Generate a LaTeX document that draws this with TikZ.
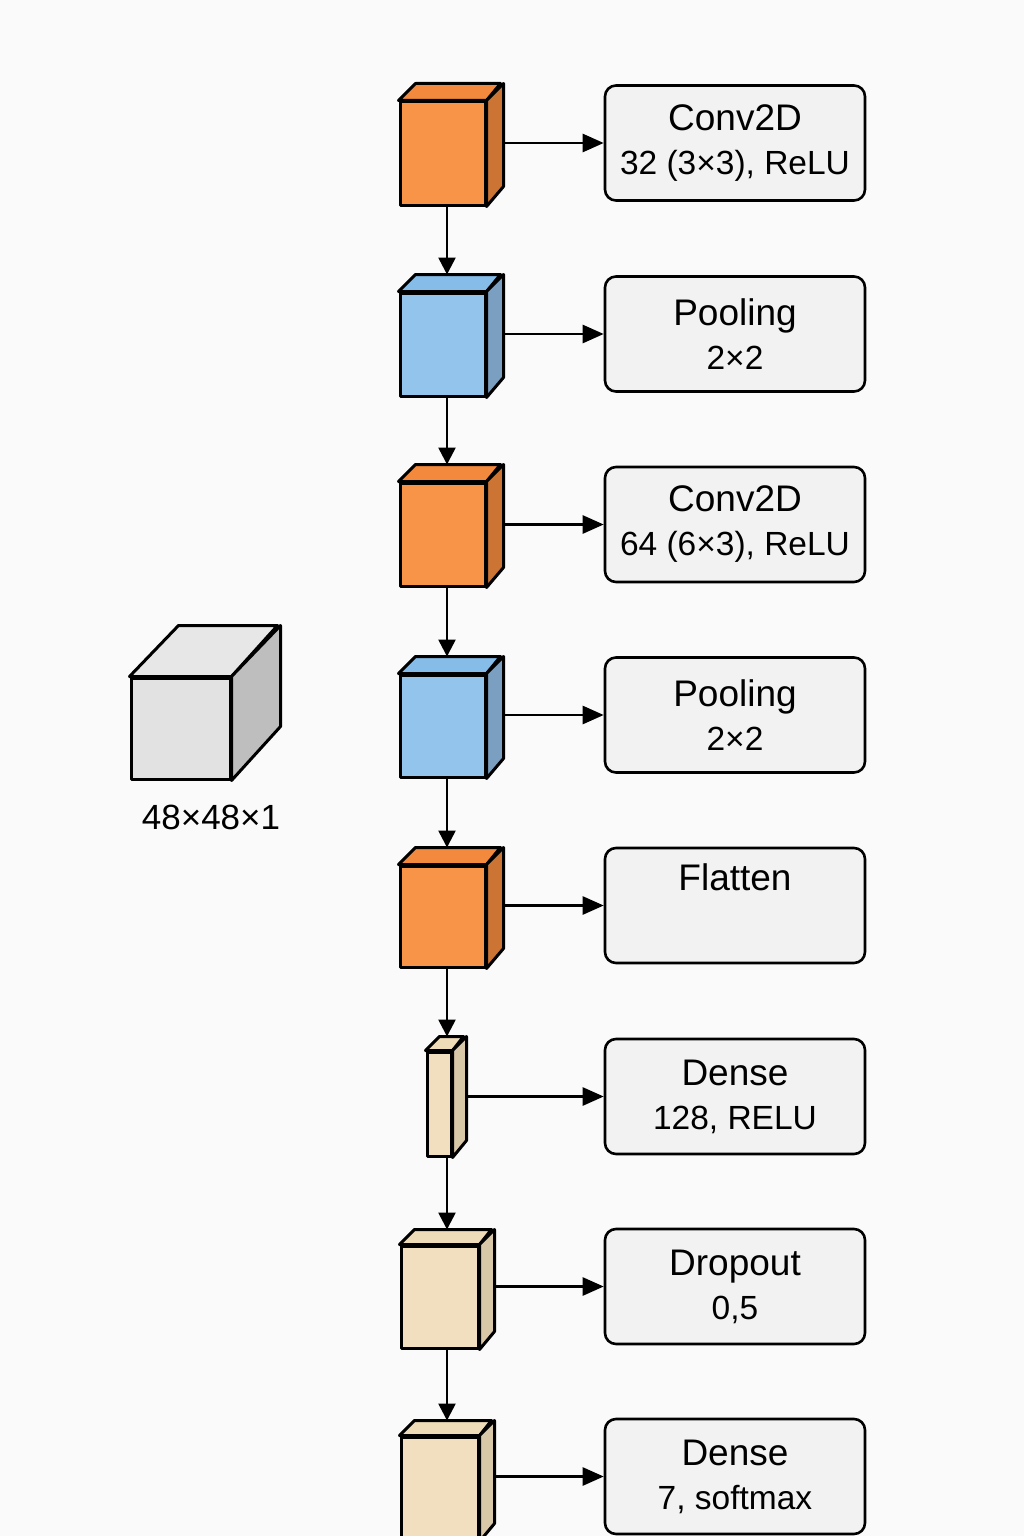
\documentclass[tikz,border=0pt]{standalone}
\usepackage{fontspec}
\setmainfont{Liberation Sans}
\usetikzlibrary{arrows.meta}

\definecolor{bg}{HTML}{FAFAFA}
\definecolor{boxfill}{HTML}{F2F2F2}
\definecolor{convF}{HTML}{F79447}
\definecolor{convT}{HTML}{F2893C}
\definecolor{convS}{HTML}{CC7433}
\definecolor{poolF}{HTML}{92C4EC}
\definecolor{poolT}{HTML}{86BCE8}
\definecolor{poolS}{HTML}{7B9FC0}
\definecolor{denseF}{HTML}{F1DFBF}
\definecolor{denseT}{HTML}{EEDBB8}
\definecolor{denseS}{HTML}{D9C8A8}
\definecolor{inF}{HTML}{E2E2E2}
\definecolor{inT}{HTML}{E7E7E7}
\definecolor{inS}{HTML}{BEBEBE}

\begin{document}
\begin{tikzpicture}[x=1pt,y=-1pt,
  line join=round,
  face/.style={draw,line width=3pt,inner sep=0pt,minimum width=#1},
  layer/.style={draw,line width=2.6pt,fill=boxfill,rounded corners=11pt,
    minimum width=260pt,minimum height=115pt,align=center,
    font=\fontsize{33.5}{44}\selectfont},
  harrow/.style={line width=2.6pt,-{Triangle[length=21pt,width=18pt]}},
  varrow/.style={line width=2.6pt,-{Triangle[length=17pt,width=17pt]}}]

%page and background
    \fill[bg] (0,0) rectangle (1024,1536);
    \useasboundingbox (0,0) rectangle (1024,1536);
    \clip (0,0) rectangle (1024,1536);
    \coordinate (spine) at (447,0);

%input volume
    \node[face=99pt,minimum height=101pt,fill=inF] (in) at (180.5,728.5) {};
    \draw[line width=3pt,fill=inT] (in.north west) -- ++(49,-51) -- ++(99,0) -- (in.north east) -- cycle;
    \draw[line width=3pt,fill=inS] (in.north east) -- ++(49,-51) -- ++(0,101) -- (in.south east) -- cycle;
    \node[font=\fontsize{35}{42}\selectfont] (inlbl) at (211,817) {48×48×1};

%draw layer blocks
  \foreach \i/\cx/\cy/\w/\h/\d/\kind in {1/442.5/153.5/85/103/17/conv,
      2/442.5/344.5/85/103/17/pool, 3/442.5/534.5/85/103/17/conv,
      4/442.5/726/85/102/17/pool, 5/442.5/916.5/85/101/17/conv,
      6/439/1104/24/104/14/dense, 7/439.5/1297/77/102/15/dense,
      8/439.5/1488.5/77/103/15/dense} {
    \node[face=\w pt,minimum height=\h pt,fill=\kind F] (c\i) at (\cx,\cy) {};
    \draw[line width=3pt,fill=\kind T] (c\i.north west) -- ++(\d,-\d) coordinate (tb\i) -- ++(\w,0) -- (c\i.north east) -- cycle;
    \draw[line width=3pt,fill=\kind S] (c\i.north east) -- ++(\d,-\d) coordinate (r\i) -- ++(0,\h) -- (c\i.south east) -- cycle; }

%label boxes
  \foreach \i/\by/\txt in {1/143/{{\fontsize{37}{44}\selectfont Conv2D}\\32 (3×3), ReLU},
      2/334/{{\fontsize{37}{44}\selectfont Pooling}\\2×2},
      3/524.5/{{\fontsize{37}{44}\selectfont Conv2D}\\64 (6×3), ReLU},
      4/715/{{\fontsize{37}{44}\selectfont Pooling}\\2×2},
      5/905.5/{{\fontsize{37}{44}\selectfont Flatten}\\\strut},
      6/1096.5/{{\fontsize{37}{44}\selectfont Dense}\\128, RELU},
      7/1286.5/{{\fontsize{37}{44}\selectfont Dropout}\\0,5},
      8/1476.5/{{\fontsize{37}{44}\selectfont Dense}\\7, softmax}}
    \node[layer] (l\i) at (735,\by) {\txt};

%connectors
  \foreach \i in {1,...,8}
    \draw[harrow] (r\i |- l\i.west) -- (l\i.west);
  \foreach \i [count=\j from 2] in {1,...,7}
    \draw[varrow] (spine |- c\i.south) -- (spine |- tb\j);

\end{tikzpicture}
\end{document}
